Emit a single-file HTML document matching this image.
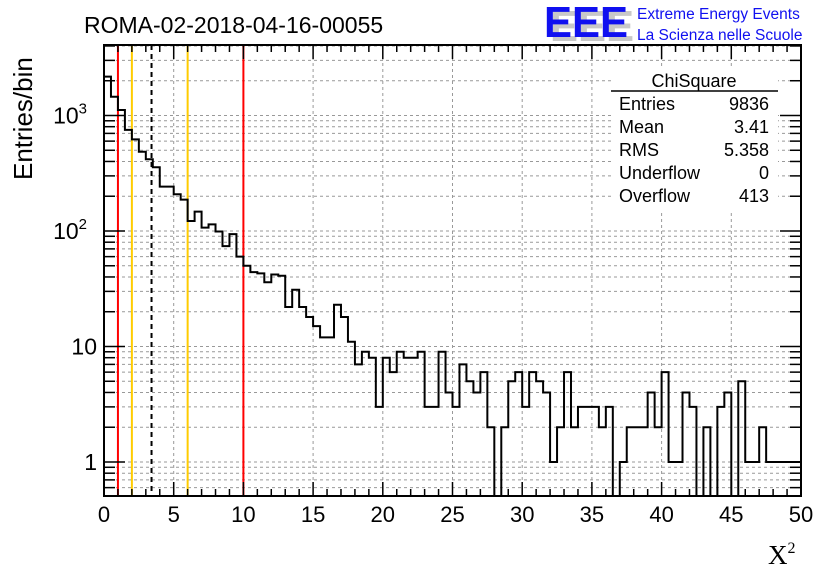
<!DOCTYPE html>
<html><head><meta charset="utf-8"><style>
body{margin:0;background:#fff;}
svg{display:block;font-family:"Liberation Sans",sans-serif;}
</style></head><body>
<svg id="c" width="836" height="572" xmlns="http://www.w3.org/2000/svg">
<rect width="836" height="572" fill="#fff"/>
<g id="grid"></g>
<g id="vlines"></g>
<g id="hist"></g>
<g id="axes"></g>
<text x="84" y="33" font-size="23">ROMA-02-2018-04-16-00055</text>
<g>
<text x="550" y="41" font-size="44" font-weight="bold" fill="#c8c8c8" textLength="84" lengthAdjust="spacingAndGlyphs">EEE</text>
<text x="544" y="37" font-size="44" font-weight="bold" fill="#1010f0" textLength="84" lengthAdjust="spacingAndGlyphs">EEE</text>
<text x="637" y="19" font-size="15.5" fill="#1010f0">Extreme Energy Events</text>
<text x="637" y="40" font-size="15.5" fill="#1010f0">La Scienza nelle Scuole</text>
</g>
<text transform="translate(32,180) rotate(-90)" font-size="26">Entries/bin</text>
<text x="768" y="564" font-size="27" font-family="Liberation Serif, serif">X<tspan font-size="16" dy="-11">2</tspan></text>
<g font-size="18">
<rect x="611" y="68" width="167" height="142" fill="#fff"/>
<text x="694" y="87" text-anchor="middle">ChiSquare</text>
<line x1="611" y1="91" x2="778" y2="91" stroke="#000" stroke-width="1.5"/>
<text x="619" y="110">Entries</text><text x="769" y="110" text-anchor="end">9836</text>
<text x="619" y="133">Mean</text><text x="769" y="133" text-anchor="end">3.41</text>
<text x="619" y="156">RMS</text><text x="769" y="156" text-anchor="end">5.358</text>
<text x="619" y="179">Underflow</text><text x="769" y="179" text-anchor="end">0</text>
<text x="619" y="202">Overflow</text><text x="769" y="202" text-anchor="end">413</text>
</g>
</svg>
<script>
const binEdges0 = 0, binWidth = 0.5;
const counts = [2170,1455,1115,750,622,486,418,356,242,242,
 208,187,122,147,107,114,99,74,94,60,
 50,44,43,36,42,41,22,31,22,18,
 15,12,12,23,18,11,7,9,8,3,
 8,6,9,8,8,9,3,3,9,4,
 3,7,5,4,6,2,0,2,5,6,
 3,6,5,4,1,2,6,2,3,3,
 3,2,3,0,1,2,2,2,4,2,
 6,1,1,4,3,0,2,0,3,4,
 0,5,1,1,2,1,1,1,1,1];
const xTicks = [0,5,10,15,20,25,30,35,40,45,50];
const yTicks = [1,10,100,1000];
const yTickLabels = ["1","10","10²","10³"];
const refLines = [{v:1,c:"#ff0000",d:""},{v:2,c:"#ffcc00",d:""},{v:3.41,c:"#000",d:"5,4"},{v:6,c:"#ffcc00",d:""},{v:10,c:"#ff0000",d:""}];

const L=104,R=801,T=45,B=496;
const X0=0,X1=50;
const yDec=115.5, y1px=462;
const sx=v=>L+(v-X0)/(X1-X0)*(R-L);
const sy=v=>y1px-yDec*Math.log10(v);
const NS="http://www.w3.org/2000/svg";
function mk(tag,attrs,parent){const e=document.createElementNS(NS,tag);for(const k in attrs)e.setAttribute(k,attrs[k]);parent.appendChild(e);return e;}
const grid=document.getElementById('grid'),hist=document.getElementById('hist'),axes=document.getElementById('axes'),vl=document.getElementById('vlines');
for(const t of xTicks){if(t===X0||t===X1)continue;const g=mk('line',{x1:sx(t),x2:sx(t),y1:T,y2:B,stroke:'#999','stroke-dasharray':'3,3','stroke-width':1},grid);

}
for(let d=-1;d<=3;d++)for(let m=1;m<=9;m++){const v=m*Math.pow(10,d);const y=sy(v);if(y<T||y>B)continue;const g=mk('line',{x1:L,x2:R,y1:y,y2:y,stroke:'#999','stroke-dasharray':'3,3','stroke-width':1},grid);

}
for(const r of refLines){const a={x1:sx(r.v),x2:sx(r.v),y1:T,y2:B,stroke:r.c,'stroke-width':2};if(r.d)a['stroke-dasharray']=r.d;const e=mk('line',a,vl);

}
let d='';
counts.forEach((c,i)=>{const xa=sx(binEdges0+i*binWidth),xb=sx(binEdges0+(i+1)*binWidth);const y=c>0?Math.max(T,sy(c)):B;
if(i===0)d+=`M${xa},${y}`;else d+=`L${xa},${y}`;d+=`L${xb},${y}`;});
const hp=mk('path',{d:d,fill:'none',stroke:'#000','stroke-width':2},hist);


const fr=mk('rect',{x:L,y:T,width:R-L,height:B-T,fill:'none',stroke:'#000','stroke-width':2},axes);


for(let v=X0;v<=X1;v+=1){const major=v%5===0;const len=major?14:7;const x=sx(v);
mk('line',{x1:x,x2:x,y1:B,y2:B-len,stroke:'#000','stroke-width':1.5},axes);
mk('line',{x1:x,x2:x,y1:T,y2:T+len,stroke:'#000','stroke-width':1.5},axes);}
xTicks.forEach(t=>{const e=mk('text',{x:sx(t),y:522,'font-size':22,'text-anchor':'middle'},axes);e.textContent=String(t);

});
for(let dd=-1;dd<=3;dd++)for(let m=1;m<=9;m++){const v=m*Math.pow(10,dd);const y=sy(v);if(y<T||y>B)continue;const len=m===1?21:11;
mk('line',{x1:L,x2:L+len,y1:y,y2:y,stroke:'#000','stroke-width':1.5},axes);
mk('line',{x1:R,x2:R-len,y1:y,y2:y,stroke:'#000','stroke-width':1.5},axes);}
yTicks.forEach((t,i)=>{const e=mk('text',{x:97,y:sy(t)+8,'font-size':23,'text-anchor':'end'},axes);const lab=yTickLabels[i];
if(lab.length>2&&(lab.endsWith('²')||lab.endsWith('³'))){e.textContent=lab.slice(0,2);const ts=mk('tspan',{'font-size':15,dy:-10},e);ts.textContent=lab.endsWith('²')?'2':'3';e.setAttribute('x',96-9);}
else e.textContent=lab;

});
</script>
</body></html>
